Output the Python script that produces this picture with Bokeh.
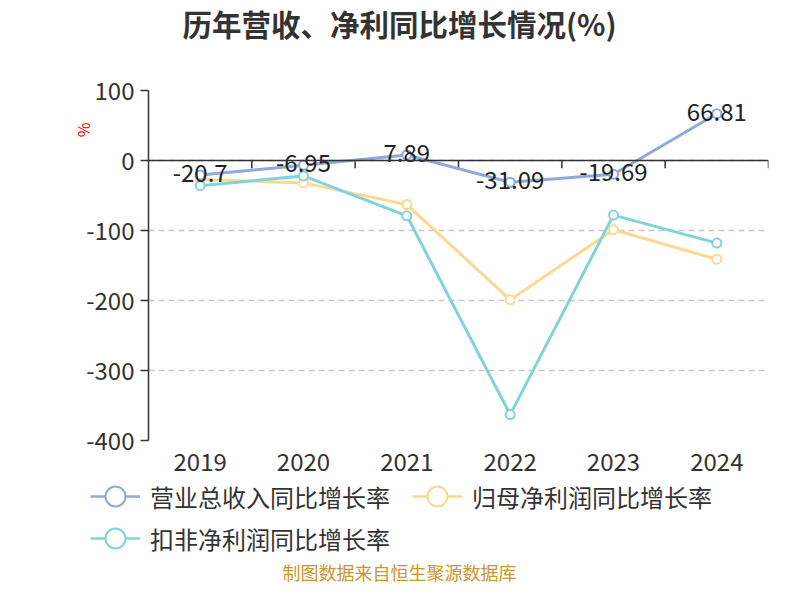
import math
from bokeh.plotting import figure
from bokeh.layouts import column
from bokeh.models import (ColumnDataSource, Range1d, FactorRange, Span, Title, Label,
                          Legend, LegendItem, FixedTicker)
from bokeh.transform import dodge
from bokeh.core.properties import value
from bokeh.embed import file_html
from bokeh.resources import INLINE

# ---- data ----
years = ["2019", "2020", "2021", "2022", "2023", "2024"]
revenue_growth = [-20.7, -6.95, 7.89, -31.09, -19.69, 66.81]
net_profit_growth = [-27, -32, -63, -199, -99, -141]
deducted_profit_growth = [-36, -22, -79, -363, -78, -118]
revenue_labels = ["-20.7", "-6.95", "7.89", "-31.09", "-19.69", "66.81"]
y_ticks = [100, 0, -100, -200, -300, -400]
series_names = ["营业总收入同比增长率", "归母净利润同比增长率", "扣非净利润同比增长率"]
title_text = "历年营收、净利同比增长情况(%)"
footer_text = "制图数据来自恒生聚源数据库"
unit_text = "%"

# ---- style ----
FONT = "Noto Sans CJK SC"
C_REV = "#8eaadb"
C_NET = "#fdd892"
C_DED = "#80d4d8"
TXT = "#333333"
W = 784


def no_align(f):
    if "frame_align" in f.properties():
        f.frame_align = False
    return f


def blank_fig(h):
    f = figure(width=W, height=h, x_range=Range1d(0, 1), y_range=Range1d(0, 1),
               output_backend="svg", toolbar_location=None, min_border=0,
               x_axis_location=None, y_axis_location=None)
    f.outline_line_color = None
    f.xgrid.visible = False
    f.ygrid.visible = False
    return no_align(f)


# ---- title strip ----
top = blank_fig(60)
top.add_layout(Label(x=399, y=38, x_units="screen", y_units="screen", text=title_text,
                     text_align="center", text_baseline="middle", text_font_size="29.5px",
                     text_font_style="bold", text_color=TXT, text_font=FONT))

# ---- main chart ----
src = ColumnDataSource(dict(year=years, rev=revenue_growth, net=net_profit_growth,
                            ded=deducted_profit_growth, lab=revenue_labels))

p = figure(width=W, height=418, x_range=FactorRange(*years), y_range=Range1d(-400, 100),
           output_backend="svg", toolbar_location=None,
           min_border_left=148, min_border_right=16, min_border_top=30, min_border_bottom=38)
no_align(p)
p.outline_line_color = None
p.xgrid.grid_line_color = None
p.ygrid.ticker = FixedTicker(ticks=y_ticks)
p.ygrid.grid_line_color = "#c8c8c8"
p.ygrid.grid_line_dash = "6 4"
p.ygrid.grid_line_width = 1.5

p.yaxis.ticker = FixedTicker(ticks=y_ticks)
p.yaxis.major_label_overrides = {t: str(t) for t in y_ticks}
p.yaxis.axis_line_color = TXT
p.yaxis.axis_line_width = 1.5
p.yaxis.major_tick_line_color = TXT
p.yaxis.major_tick_line_width = 1.5
p.yaxis.major_tick_out = 8
p.yaxis.major_tick_in = 0
p.yaxis.minor_tick_line_color = None
p.yaxis.major_label_text_font_size = "24px"
p.yaxis.major_label_text_color = TXT
p.yaxis.major_label_text_font = FONT
p.yaxis.major_label_standoff = 6

p.xaxis.axis_line_color = None
p.xaxis.major_tick_line_color = None
p.xaxis.minor_tick_line_color = None
p.xaxis.major_label_text_font_size = "24px"
p.xaxis.major_label_text_color = TXT
p.xaxis.major_label_text_font = FONT
p.xaxis.major_label_standoff = 6

p.add_layout(Title(text=unit_text, align="right", offset=32, standoff=-22,
                   text_font_size="16px", text_font_style="normal",
                   text_color="#ee0000", text_font=FONT), "left")

# zero axis line with category-boundary ticks
p.add_layout(Span(location=0, dimension="width", line_color=TXT, line_width=1.5))
p.segment(x0=dodge("year", 0.5, range=p.x_range), y0=0,
          x1=dodge("year", 0.5, range=p.x_range), y1=-11,
          source=src, line_color=TXT, line_width=1.5)

for col, color in [("net", C_NET), ("ded", C_DED), ("rev", C_REV)]:
    p.line(x="year", y=col, source=src, line_color=color, line_width=3)
    p.scatter(x="year", y=col, source=src, marker="circle", size=9,
              fill_color="white", line_color=color, line_width=2)

p.text(x="year", y="rev", text="lab", source=src, text_align="center",
       text_baseline="middle", y_offset=-2, text_font_size="24px",
       text_color="#222222", text_font=value(FONT))

# ---- legend + footer strip ----
bottom = blank_fig(106)
nan = float("nan")
leg_items = []
for name, color in zip(series_names, [C_REV, C_NET, C_DED]):
    lr = bottom.line(x=[nan], y=[nan], line_color=color, line_width=2.5)
    sr = bottom.scatter(x=[nan], y=[nan], marker="circle", fill_color="white",
                        line_color=color, line_width=2)
    leg_items.append(LegendItem(label=name, renderers=[lr, sr]))

common = dict(orientation="horizontal", glyph_width=50, glyph_height=50,
              label_standoff=10, label_width=240, spacing=22, padding=0, margin=0,
              border_line_color=None, background_fill_alpha=0,
              label_text_font_size="24px", label_text_color=TXT, label_text_font=FONT)
bottom.add_layout(Legend(items=leg_items[:2], location=(90, 63), **common), "center")
bottom.add_layout(Legend(items=leg_items[2:], location=(90, 21), **common), "center")
bottom.add_layout(Label(x=399, y=13, x_units="screen", y_units="screen", text=footer_text,
                        text_align="center", text_baseline="middle", text_font_size="18px",
                        text_color="#c9972b", text_font=FONT))

layout = column(top, p, bottom, spacing=0)
open("out.html", "w").write(file_html(layout, INLINE))
